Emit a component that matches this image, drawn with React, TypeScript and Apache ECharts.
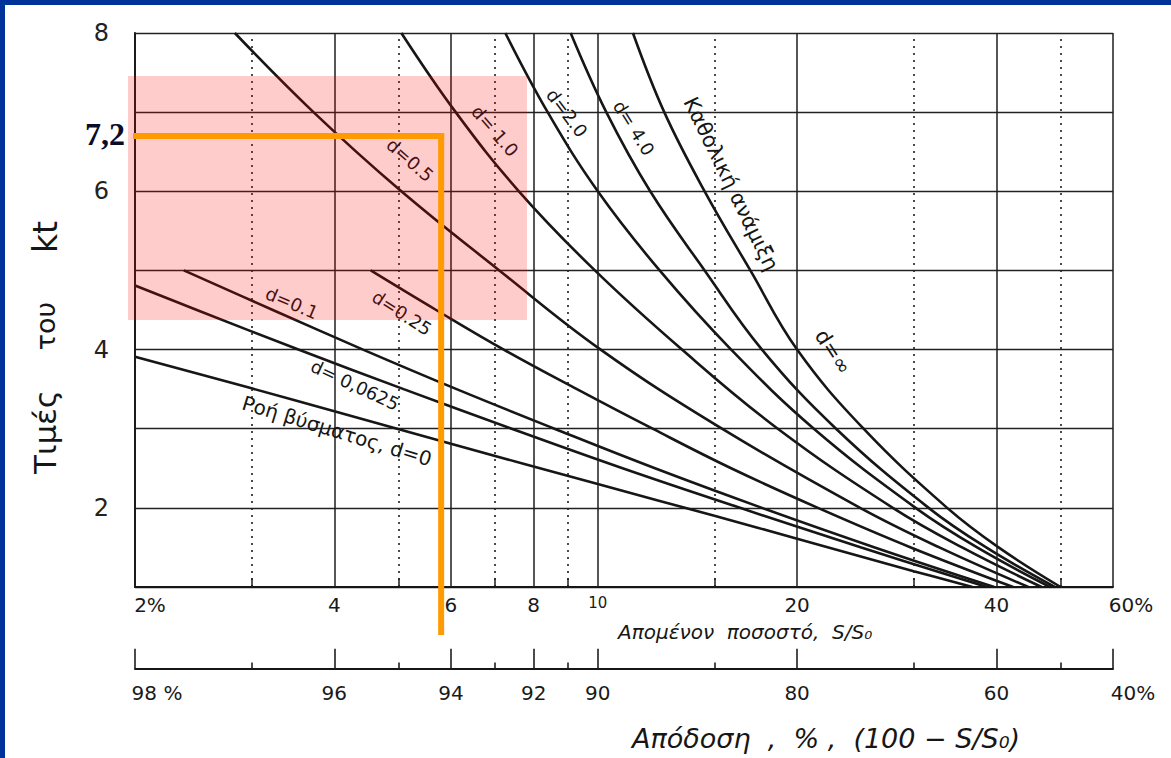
import React, { useEffect, useRef } from "react";
import * as echarts from "echarts";

// ---- axes ----
const ktMin = 1;
const ktMax = 8;
const fMin = 2;
const fMax = 60;
const majorX = [2, 4, 6, 8, 10, 20, 40, 60];
const minorX = [3, 5, 7, 9, 15, 30, 50];
const remainingLabels = ["2%", "4", "6", "8", "10", "20", "40", "60%"];
const efficiencyLabels = ["98 %", "96", "94", "92", "90", "80", "60", "40%"];

// ---- curves: [S/S0 %, kt] ----
const curveMixing = [[11.3, 8], [12.6, 7], [14.5, 6], [17.0, 5], [20.0, 4], [25.2, 3], [33.7, 2], [40.3, 1.5], [50, 1]];
const curveD4 = [[9.1, 8], [10.3, 7], [12.0, 6], [14.5, 5], [17.7, 4], [22.9, 3], [31.6, 2], [38.6, 1.5], [49, 1]];
const curveD2 = [[7.25, 8], [8.4, 7], [10.0, 6], [12.4, 5], [15.9, 4], [21.2, 3], [30.2, 2], [37.4, 1.5], [48.2, 1]];
const curveD1 = [[5.05, 8], [6.1, 7], [7.6, 6], [9.9, 5], [13.4, 4], [18.7, 3], [27.9, 2], [35.5, 1.5], [46.8, 1]];
const curveD05 = [[2.83, 8], [3.72, 7], [5.05, 6], [7.1, 5], [10.1, 4], [15.4, 3], [24.9, 2], [32.8, 1.5], [44.7, 1]];
const curveD025 = [[4.54, 5], [5.7, 4.5], [7.21, 4], [9.3, 3.5], [12.1, 3], [15.9, 2.5], [21.5, 2], [29.7, 1.5], [42.4, 1]];
const curveD01 = [[2.37, 5], [3.23, 4.5], [4.42, 4], [6.12, 3.5], [8.6, 3], [12.2, 2.5], [17.7, 2], [26.2, 1.5], [39.7, 1]];
const curveD00625 = [[2, 4.81], [2.48, 4.5], [3.53, 4], [5.09, 3.5], [7.41, 3], [10.9, 2.5], [16.4, 2], [25.0, 1.5], [38.7, 1]];
const curvePlug = [[2, 3.91], [3, 3.51], [4, 3.22], [6, 2.81], [10, 2.3], [15, 1.9], [20, 1.61], [30, 1.2], [36.8, 1.0]];

const curveNames = ["d=∞", "d=4.0", "d=2.0", "d=1.0", "d=0.5", "d=0.25", "d=0.1", "d=0.0625", "d=0"];
const curveData = [curveMixing, curveD4, curveD2, curveD1, curveD05, curveD025, curveD01, curveD00625, curvePlug];

// ---- curve labels: text, x, y, angle(deg), size ----
const curveLabels: [string, number, number, number, number][] = [
  ["d=0.5", 410, 160, -41, 18],
  ["d= 1.0", 495, 131, -49, 18],
  ["d=2.0", 567, 113, -53, 18],
  ["d= 4.0", 634, 128, -58, 18],
  ["Καθολική ανάμιξη", 731, 184, -64, 21],
  ["d=∞", 833, 352, -57, 21],
  ["d=0.1", 292, 303, -23, 18],
  ["d=0.25", 402, 313, -33, 18],
  ["d= 0,0625", 355, 385, -25, 18],
  ["Ροή βύσματος, d=0", 337, 431, -17, 20],
];

// ---- annotation (reading) ----
const readF = 5.8;
const readKt = 6.7;
const readLabel = "7,2";

export default function App() {
  const ref = useRef<HTMLDivElement>(null);
  useEffect(() => {
    const el = ref.current!;
    const chart = echarts.init(el, null, { renderer: "svg" });
    const font = "'DejaVu Sans', 'Noto Sans', sans-serif";
    const ink = "#161616";

    const curveSeries = curveData.map((d, i) => ({
      type: "line",
      name: curveNames[i],
      xAxisIndex: 0,
      yAxisIndex: 0,
      data: d,
      smooth: 0.4,
      symbol: "none",
      clip: true,
      silent: true,
      z: 4,
      lineStyle: { color: ink, width: 2.6 },
    }));

    const option: any = {
      animation: false,
      backgroundColor: "#ffffff",
      textStyle: { fontFamily: font },
      grid: [
        { left: 135, top: 33, width: 978, height: 554, outerBoundsMode: "none", containLabel: false },
        { left: 135, top: 640, width: 978, height: 29, outerBoundsMode: "none", containLabel: false },
      ],
      xAxis: [
        {
          type: "log", logBase: 10, min: fMin, max: fMax, gridIndex: 0,
          axisLine: { show: true, onZero: false, lineStyle: { color: ink, width: 2 } },
          axisTick: { show: false }, axisLabel: { show: false }, splitLine: { show: false }, minorSplitLine: { show: false },
        },
        {
          type: "log", logBase: 10, min: fMin, max: fMax, gridIndex: 1,
          axisLine: { show: true, onZero: false, lineStyle: { color: ink, width: 2 } },
          axisTick: { show: false }, axisLabel: { show: false }, splitLine: { show: false },
        },
      ],
      yAxis: [
        {
          type: "value", min: ktMin, max: ktMax, interval: 1, gridIndex: 0,
          axisLine: { show: true, lineStyle: { color: ink, width: 2 } },
          axisTick: { show: false },
          splitLine: { show: true, showMinLine: true, showMaxLine: true, lineStyle: { color: "#222", width: 1.4 } },
          axisLabel: {
            show: true, margin: 26, fontSize: 24, color: "#222", fontFamily: font,
            padding: [8, 0, 0, 0],
            formatter: (v: number) => (v % 2 === 0 ? String(v) : ""),
          },
        },
        { type: "value", min: 0, max: 1, gridIndex: 1, show: false },
      ],
      series: [
        {
          type: "line", data: [], xAxisIndex: 0, yAxisIndex: 0, silent: true, z: 2,
          markLine: {
            silent: true, symbol: ["none", "none"], animation: false,
            lineStyle: { type: "solid", color: "#1e1e1e", width: 1.5 },
            label: { show: true, position: "start", formatter: "{b}", fontSize: 20, color: "#1a1a1a", fontFamily: font, distance: 8 },
            emphasis: { disabled: true },
            data: majorX.map((v, i) => {
              const item: any = { xAxis: v, name: remainingLabels[i] };
              if (v === 2) item.label = { padding: [0, 0, 0, 30] };
              if (v === 60) item.label = { padding: [0, 0, 0, 36] };
              if (v === 10) item.label = { fontSize: 15, padding: [0, 0, 4, 0] };
              return item;
            }),
          },
        },
        {
          type: "line", data: [], xAxisIndex: 0, yAxisIndex: 0, silent: true, z: 2,
          markLine: {
            silent: true, symbol: ["none", "none"], animation: false,
            label: { show: false },
            emphasis: { disabled: true },
            lineStyle: { type: [2, 5], color: "#1e1e1e", width: 1.6 },
            data: [
              ...minorX.map((v) => ({ xAxis: v })),
              ...minorX.map((v) => [
                { coord: [v, ktMin], lineStyle: { type: "solid", width: 1.5, color: "#1e1e1e" } },
                { coord: [v, ktMin + 0.11] },
              ]),
            ],
          },
        },
        {
          type: "line", data: [], xAxisIndex: 1, yAxisIndex: 1, silent: true, z: 2,
          markLine: {
            silent: true, symbol: ["none", "none"], animation: false,
            lineStyle: { type: "solid", color: "#1e1e1e", width: 1.6 },
            label: { show: true, position: "start", formatter: "{b}", fontSize: 20, color: "#1a1a1a", fontFamily: font, distance: 14 },
            emphasis: { disabled: true },
            data: [
              ...majorX.map((v, i) => {
                const first: any = { coord: [v, 0], name: efficiencyLabels[i] };
                if (v === 2) first.label = { padding: [0, 0, 0, 44] };
                if (v === 60) first.label = { padding: [0, 0, 0, 40] };
                return [first, { coord: [v, 0.7] }];
              }),
              ...minorX.map((v) => [{ coord: [v, 0], label: { show: false } }, { coord: [v, 0.22] }]),
            ],
          },
        },
        ...curveSeries,
      ],
    };
    chart.setOption(option);

    const p = chart.convertToPixel({ xAxisIndex: 0, yAxisIndex: 0 }, [readF, readKt]) as number[];
    const pLeft = chart.convertToPixel({ xAxisIndex: 0, yAxisIndex: 0 }, [fMin, readKt]) as number[];
    const orange = "#FF9A00";

    const textEl = (text: string, x: number, y: number, rotDeg: number, size: number, extra: any = {}) => ({
      type: "text", x, y, rotation: (rotDeg * Math.PI) / 180, silent: true, z: 60,
      style: {
        text, fontSize: size, fontFamily: font, fill: ink,
        align: "center", verticalAlign: "middle", textAlign: "center", textVerticalAlign: "middle",
        ...extra,
      },
    });

    const graphics: any[] = [
      ...curveLabels.map(([t, x, y, a, s]) => textEl(t, x, y, a, s)),
      textEl("Απομένον  ποσοστό,  S/S₀", 618, 632, 0, 20, { align: "left", textAlign: "left", fontStyle: "italic" }),
      textEl("Απόδοση  ,  % ,  (100 − S/S₀)", 632, 738, 0, 27, { align: "left", textAlign: "left", fontStyle: "italic" }),
      textEl("Τιμές", 45, 432, 90, 31),
      textEl("του", 45, 326, 90, 27),
      textEl("kt", 45, 237, 90, 33),
      // overlay
      { type: "rect", z: 80, silent: true, shape: { x: 128, y: 76, width: 399, height: 244 }, style: { fill: "rgba(255,0,0,0.2)" } },
      { type: "line", z: 90, silent: true, shape: { x1: pLeft[0] - 2, y1: p[1], x2: p[0] + 3, y2: p[1] }, style: { stroke: orange, lineWidth: 6 } },
      { type: "line", z: 90, silent: true, shape: { x1: p[0], y1: p[1] - 3, x2: p[0], y2: 635 }, style: { stroke: orange, lineWidth: 6 } },
      {
        type: "text", x: pLeft[0] - 10, y: p[1] - 2, z: 95, silent: true,
        style: {
          text: readLabel, fontSize: 32, fontWeight: "bold", fontFamily: "'Liberation Serif', 'DejaVu Serif', serif",
          fill: "#0a0c28", align: "right", verticalAlign: "middle", textAlign: "right", textVerticalAlign: "middle",
        },
      },
      // blue frame
      { type: "rect", z: 99, silent: true, shape: { x: 0, y: 0, width: 1171, height: 5 }, style: { fill: "#003399" } },
      { type: "rect", z: 99, silent: true, shape: { x: 0, y: 0, width: 5, height: 758 }, style: { fill: "#003399" } },
    ];
    chart.setOption({ graphic: { elements: graphics } });

    return () => chart.dispose();
  }, []);

  return (
    <div
      ref={ref}
      style={{ position: "fixed", left: 0, top: 0, width: 1171, height: 758, background: "#ffffff" }}
    />
  );
}
